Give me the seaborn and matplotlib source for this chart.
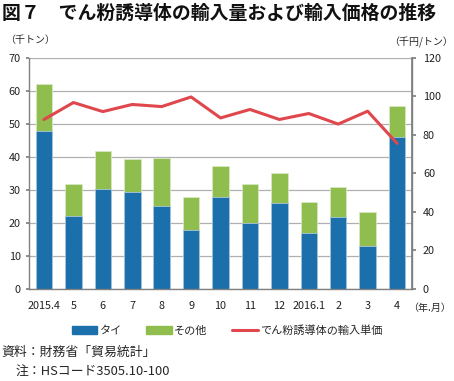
import seaborn as sns
from matplotlib import pyplot as plt
from matplotlib.patches import Patch
from matplotlib.lines import Line2D
import pandas as pd
import numpy as np

sns.set_theme(style="white")
plt.rcParams['font.family'] = ['Noto Sans CJK JP', 'DejaVu Sans']

months = ['2015.4', '5', '6', '7', '8', '9', '10', '11', '12', '2016.1', '2', '3', '4']
thai = [47.8, 22.1, 30.2, 29.2, 25.1, 17.9, 27.8, 20.0, 26.1, 16.9, 21.8, 12.9, 46.1]
other = [14.1, 9.7, 11.4, 10.1, 14.4, 9.8, 9.5, 11.7, 9.1, 9.4, 8.9, 10.4, 9.2]
price = [87.9, 96.7, 92.0, 95.7, 94.6, 99.6, 88.7, 93.1, 87.9, 91.0, 85.5, 92.2, 75.5]

blue = '#1b6fab'
green = '#8fbd4e'
red = '#e0474c'

df = pd.DataFrame({'month': months, 'thai': thai, 'other': other, 'price': price})
df['total'] = df['thai'] + df['other']
df['pos'] = np.arange(len(df))

fig = plt.figure(figsize=(4.54, 3.81), dpi=100)
ax = fig.add_axes([0.0645, 0.2423, 0.8425, 0.6063])

# stacked look: total in green, Thai share drawn over it in blue
sns.barplot(data=df, x='month', y='total', color=green, width=0.56,
            edgecolor='#d8e8c4', linewidth=0.6, saturation=1, ax=ax)
sns.barplot(data=df, x='month', y='thai', color=blue, width=0.56,
            edgecolor='#a9c6dc', linewidth=0.6, saturation=1, ax=ax)

ax.set_ylim(0, 70)
ax.set_yticks(range(0, 71, 10))
ax.set_xlim(-0.5, len(months) - 0.5)
ax.grid(axis='y', color='#b0b0b0', linewidth=0.9)
ax.set_axisbelow(True)
ax.set_xlabel('')
ax.set_ylabel('')
ax.set_xticks(np.arange(len(months)))
ax.set_xticklabels(months)
ax.tick_params(axis='x', length=0, labelsize=7.8, pad=9, colors='#222222')
ax.tick_params(axis='y', length=2, labelsize=7.8, pad=4, colors='#222222', color='#808080')
ax.set_xticks(np.arange(-0.5, len(months), 1), minor=True)
ax.tick_params(axis='x', which='minor', length=3, color='#808080', width=0.9)
ax.spines['top'].set_visible(False)
for s in ['left', 'bottom', 'right']:
    ax.spines[s].set_color('#808080')
    ax.spines[s].set_linewidth(1.0)

ax2 = ax.twinx()
sns.lineplot(data=df, x='pos', y='price', color=red, linewidth=2.2, ax=ax2)
ax2.set_ylim(0, 120)
ax2.set_yticks(range(0, 121, 20))
ax2.set_xlim(-0.5, len(months) - 0.5)
ax2.set_ylabel('')
ax2.set_xlabel('')
ax2.tick_params(axis='y', length=3, labelsize=7.8, pad=5, colors='#222222', color='#808080')
ax2.spines['top'].set_visible(False)
ax2.spines['right'].set_color('#808080')
ax2.spines['left'].set_visible(False)
ax2.spines['bottom'].set_visible(False)
ax2.grid(False)

fig.text(0.005, 0.966, '図７　でん粉誘導体の輸入量および輸入価格の推移',
         fontsize=13.6, fontweight='bold', va='center', ha='left', color='#111111')
fig.text(0.012, 0.895, '（千トン）', fontsize=7.2, va='center', ha='left')
fig.text(0.998, 0.888, '（千円/トン）', fontsize=7.2, va='center', ha='right')
fig.text(0.9, 0.193, '（年.月）', fontsize=7.2, va='center', ha='left')

handles = [Patch(color=blue, label='タイ'),
           Patch(color=green, label='その他'),
           Line2D([0], [0], color=red, lw=2.2, label='でん粉誘導体の輸入単価')]
fig.legend(handles=handles, loc='center', bbox_to_anchor=(0.5, 0.133), ncol=3,
           frameon=False, fontsize=8, handlelength=2.3, handleheight=0.8,
           handletextpad=0.2, columnspacing=2.2)

fig.text(0.004, 0.074, '資料：財務省「貿易統計」', fontsize=9.3, va='center', ha='left')
fig.text(0.035, 0.022, '注：HSコード3505.10-100', fontsize=9.3, va='center', ha='left')

plt.savefig('out.png', dpi=100)
